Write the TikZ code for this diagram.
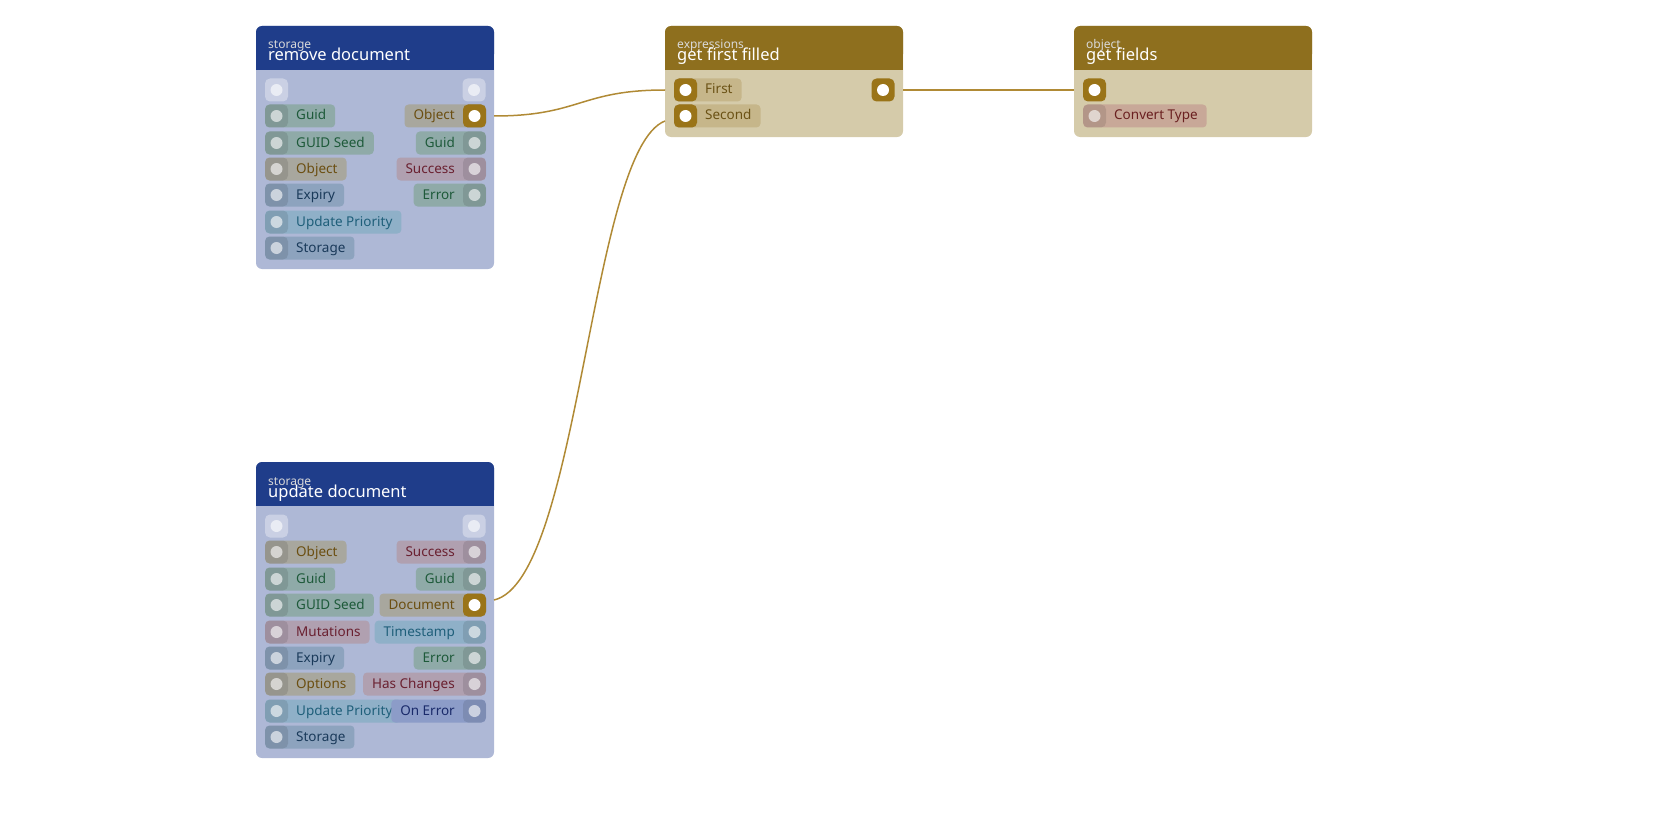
\documentclass[tikz,border=0pt]{standalone}
\usepackage{fontspec}
\setmainfont{Noto Sans}
\usepackage{tikz}
\usetikzlibrary{positioning}
\definecolor{hblue}{HTML}{1F3D8A}
\definecolor{bblue}{HTML}{AEB8D6}
\definecolor{hgold}{HTML}{8E6F1E}
\definecolor{bgold}{HTML}{D5CBAA}
\definecolor{wire}{HTML}{B08A35}
\definecolor{pinGold}{HTML}{9A7418}
\definecolor{cGuid}{HTML}{8FAAA8}\definecolor{tGuid}{HTML}{1E5A3A}
\definecolor{cObj}{HTML}{A8A79E}\definecolor{tObj}{HTML}{6B4E10}
\definecolor{cExp}{HTML}{8DA3BE}\definecolor{tExp}{HTML}{1A3A5A}
\definecolor{cPrio}{HTML}{8FB0C8}\definecolor{tPrio}{HTML}{1F5F7A}
\definecolor{cSucc}{HTML}{B0A0B0}\definecolor{tSucc}{HTML}{6A2030}
\definecolor{cErr}{HTML}{8C9CC8}\definecolor{tErr}{HTML}{1A2A6A}
\definecolor{cConv}{HTML}{C8A898}\definecolor{tConv}{HTML}{6A2020}
\definecolor{cGold}{HTML}{C6B68A}\definecolor{tGold}{HTML}{6B5215}
\tikzset{
  pill/.style={rounded corners=4pt, minimum height=23pt, text height=10pt, text depth=2pt, inner xsep=9pt, inner ysep=0pt, font=\fontsize{13.5}{16}\selectfont},
  guid/.style={fill=cGuid, text=tGuid},
  obj/.style={fill=cObj, text=tObj},
  expiry/.style={fill=cExp, text=tExp},
  prio/.style={fill=cPrio, text=tPrio},
  succ/.style={fill=cSucc, text=tSucc},
  onerr/.style={fill=cErr, text=tErr},
  conv/.style={fill=cConv, text=tConv},
  gold/.style={fill=cGold, text=tGold},
  sock/.style={fill=black, fill opacity=0.1, rounded corners=5pt, minimum size=23pt, inner sep=0pt},
  sockon/.style={fill=pinGold, rounded corners=5pt, minimum size=23pt, inner sep=0pt},
  blank/.style={fill=white, fill opacity=0.35, rounded corners=5pt, minimum size=23pt, inner sep=0pt},
  dot/.style={circle, fill=white, fill opacity=0.6, minimum size=12pt, inner sep=0pt},
  doton/.style={circle, fill=white, minimum size=12pt, inner sep=0pt},
  cat/.style={anchor=base west, text=white!85!black, font=\fontsize{12}{14}\selectfont, inner sep=0pt},
  title/.style={anchor=base west, text=white, font=\fontsize{16.5}{19}\selectfont, inner sep=0pt},
  link/.style={draw=wire, line width=1.5pt}
}
\begin{document}
\begin{tikzpicture}[x=1pt,y=-1pt]
	\newcommand\InPin[5]{% name, x, y, label, style
		\node[pill,#5,anchor=west] (#1) at (#2,#3) {\hspace*{22pt}#4};
		\node[sock] at ([xshift=11.5pt]#1.west) {};
		\node[dot] (#1-s) at ([xshift=11.5pt]#1.west) {};}
	\newcommand\OutPin[5]{% name, x, y, label, style
		\node[pill,#5,anchor=east] (#1) at (#2,#3) {#4\hspace*{22pt}};
		\node[sock] at ([xshift=-11.5pt]#1.east) {};
		\node[dot] (#1-s) at ([xshift=-11.5pt]#1.east) {};}
	\newcommand\Pin[2]{% name, at
		\node[blank] at (#2) {};
		\node[dot] (#1) at (#2) {};}
	\newcommand\OnPin[2]{% name, at
		\node[sockon] at (#2) {};
		\node[doton] (#1) at (#2) {};}

	\useasboundingbox (0,0) rectangle (1680,840);

	% remove document
	\fill[bblue, rounded corners=6pt] (256,26) rectangle (494,269);
	\fill[hblue, rounded corners=6pt] (256,26) rectangle (494,60);
	\fill[hblue] (256,50) rectangle (494,70);
	\node[cat] at (268,49) {storage};
	\node[title] at (268,61) {remove document};
	\Pin{rmIn}{276.5,90}
	\Pin{rmOut}{474,90}
	\InPin{rmGuid}{265}{116}{Guid}{guid}
	\InPin{rmSeed}{265}{143}{GUID Seed}{guid}
	\InPin{rmObj}{265}{169}{Object}{obj}
	\InPin{rmExp}{265}{195}{Expiry}{expiry}
	\InPin{rmPrio}{265}{222}{Update Priority}{prio}
	\InPin{rmStor}{265}{248}{Storage}{expiry}
	\OutPin{rmObject}{486}{116}{Object}{obj}
	\OnPin{rmObject-s}{474.5,116}
	\OutPin{rmGuidO}{486}{143}{Guid}{guid}
	\OutPin{rmSucc}{486}{169}{Success}{succ}
	\OutPin{rmErr}{486}{195}{Error}{guid}

	% update document
	\fill[bblue, rounded corners=6pt] (256,462) rectangle (494,758);
	\fill[hblue, rounded corners=6pt] (256,462) rectangle (494,496);
	\fill[hblue] (256,486) rectangle (494,506);
	\node[cat] at (268,485) {storage};
	\node[title] at (268,497) {update document};
	\Pin{upIn}{276.5,526}
	\Pin{upOut}{474,526}
	\InPin{upObj}{265}{552}{Object}{obj}
	\InPin{upGuid}{265}{579}{Guid}{guid}
	\InPin{upSeed}{265}{605}{GUID Seed}{guid}
	\InPin{upMut}{265}{632}{Mutations}{succ}
	\InPin{upExp}{265}{658}{Expiry}{expiry}
	\InPin{upOpt}{265}{684}{Options}{obj}
	\InPin{upPrio}{265}{711}{Update Priority}{prio}
	\InPin{upStor}{265}{737}{Storage}{expiry}
	\OutPin{upSucc}{486}{552}{Success}{succ}
	\OutPin{upGuidO}{486}{579}{Guid}{guid}
	\OutPin{upDoc}{486}{605}{Document}{obj}
	\OnPin{upDoc-s}{474.5,605}
	\OutPin{upTime}{486}{632}{Timestamp}{prio}
	\OutPin{upErr}{486}{658}{Error}{guid}
	\OutPin{upChg}{486}{684}{Has Changes}{succ}
	\OutPin{upOnErr}{486}{711}{On Error}{onerr}

	% get first filled
	\fill[bgold, rounded corners=6pt] (665,26) rectangle (903,137);
	\fill[hgold, rounded corners=6pt] (665,26) rectangle (903,60);
	\fill[hgold] (665,50) rectangle (903,70);
	\node[cat] at (677,49) {expressions};
	\node[title] at (677,61) {get first filled};
	\InPin{gfFirst}{674}{90}{First}{gold}
	\OnPin{gfFirst-s}{685.5,90}
	\InPin{gfSecond}{674}{116}{Second}{gold}
	\OnPin{gfSecond-s}{685.5,116}
	\OnPin{gfOut}{883,90}

	% get fields
	\fill[bgold, rounded corners=6pt] (1074,26) rectangle (1312,137);
	\fill[hgold, rounded corners=6pt] (1074,26) rectangle (1312,60);
	\fill[hgold] (1074,50) rectangle (1312,70);
	\node[cat] at (1086,49) {object};
	\node[title] at (1086,61) {get fields};
	\OnPin{gfdIn}{1094.5,90}
	\InPin{gfdConv}{1083}{116}{Convert Type}{conv}

	% links
	\coordinate (w1a) at (494,116);
	\coordinate (w1b) at (665,90);
	\coordinate (w2a) at (494,600);
	\coordinate (w2b) at (665,121);
	\coordinate (w3a) at (903,90);
	\coordinate (w3b) at (1074,90);
	\draw[link] (w1a) .. controls (580,116) and (580,90) .. (w1b);
	\draw[link] (w2a) .. controls (580,580) and (590,150) .. (w2b);
	\draw[link] (w3a) -- (w3b);
\end{tikzpicture}
\end{document}
